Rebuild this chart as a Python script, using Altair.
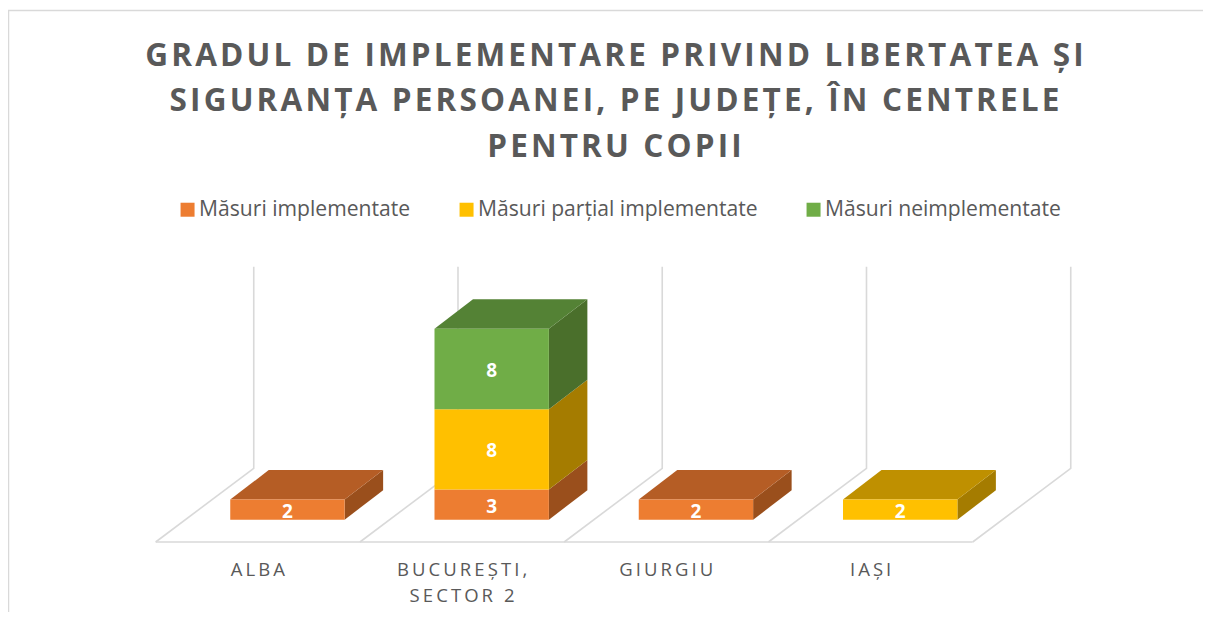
import altair as alt
import pandas as pd

categories = ["ALBA", "BUCUREȘTI,\nSECTOR 2", "GIURGIU", "IAȘI"]
series = ["Măsuri implementate", "Măsuri parțial implementate", "Măsuri neimplementate"]
implemented = [2, 3, 2, 0]
partial = [0, 8, 0, 2]
not_implemented = [0, 8, 0, 0]
colors = ["#ED7D31", "#FFC000", "#70AD47"]
top_colors = ["#B55D25", "#BF9000", "#548235"]
side_colors = ["#9A4F1C", "#A57C00", "#4A6F2B"]
title_lines = [
    "GRADUL DE IMPLEMENTARE PRIVIND LIBERTATEA ȘI",
    "SIGURANȚA PERSOANEI, PE JUDEȚE, ÎN CENTRELE",
    "PENTRU COPII",
]

W, H = 1195, 604
FONT = "Open Sans"
BAR_L, BAR_W = 0.365, 0.56
DX, DY = 0.1885, 2.935
FLOOR_FRONT, FLOOR_BACK, WALL_TOP, FLOOR_DX = -2.219, 5.114, 25.17, 0.48
x_scale = alt.Scale(domain=[-0.7231, 5.1275], range=[0, W], nice=False, zero=False)
y_scale = alt.Scale(domain=[-9.184, 50.915], range=[H, 0], nice=False, zero=False)


def spaced(text, sep="\u200a"):
    return sep.join(text)


fronts, sides, tops, labels = [], [], [], []
for i, cat in enumerate(categories):
    base = 0
    vals = [implemented[i], partial[i], not_implemented[i]]
    last = max(j for j, v in enumerate(vals) if v)
    for j, v in enumerate(vals):
        if not v:
            continue
        l, r = i + BAR_L, i + BAR_L + BAR_W
        t = base + v
        key = f"{i}-{j}"
        fronts.append(dict(series=series[j], x=l, x2=r, y=base, y2=t))
        labels.append(dict(x=(l + r) / 2, y=(base + t) / 2, text=str(v)))
        sides += [
            dict(key=key, fill=side_colors[j], x=r, y=base, y2=t),
            dict(key=key, fill=side_colors[j], x=r + DX, y=base + DY, y2=t + DY),
        ]
        if j == last:
            tops += [
                dict(key=key, fill=top_colors[j], x=l, y=t, y2=t),
                dict(key=key, fill=top_colors[j], x=l + DX, y=t, y2=t + DY),
                dict(key=key, fill=top_colors[j], x=r, y=t, y2=t + DY),
                dict(key=key, fill=top_colors[j], x=r + DX, y=t + DY, y2=t + DY),
            ]
        base = t

grid = [dict(g="front", x=0, y=FLOOR_FRONT), dict(g="front", x=len(categories), y=FLOOR_FRONT)]
for i in range(len(categories) + 1):
    grid += [
        dict(g=f"w{i}", x=i, y=FLOOR_FRONT),
        dict(g=f"w{i}", x=i + FLOOR_DX, y=FLOOR_BACK),
        dict(g=f"w{i}", x=i + FLOOR_DX, y=WALL_TOP),
    ]
cat_df = pd.DataFrame(dict(x=[i + 0.5 for i in range(len(categories))],
                           y=[-4.15] * len(categories),
                           text=["\n".join(spaced(p, "\u2009") for p in c.split("\n")) for c in categories]))

X = alt.X("x:Q", scale=x_scale, axis=None)
Y = alt.Y("y:Q", scale=y_scale, axis=None, stack=None)

frame_left = alt.Chart(pd.DataFrame({"a": [0]})).mark_rule(color="#d9d9d9", strokeWidth=1.5).encode(
    x=alt.value(0.5), y=alt.value(2.5), y2=alt.value(H))
frame_top = alt.Chart(pd.DataFrame({"a": [0]})).mark_rule(color="#d9d9d9", strokeWidth=1.5).encode(
    x=alt.value(0), x2=alt.value(W), y=alt.value(2.5))
grid_layer = alt.Chart(pd.DataFrame(grid)).mark_line(color="#d9d9d9", strokeWidth=1.6).encode(
    x=X, y=Y, detail="g:N", order=alt.Order("y:Q"))
side_layer = alt.Chart(pd.DataFrame(sides)).mark_area(interpolate="linear").encode(
    x=X, y=Y, y2="y2:Q", detail="key:N", fill=alt.Fill("fill:N", scale=None))
top_layer = alt.Chart(pd.DataFrame(tops)).mark_area(interpolate="linear").encode(
    x=X, y=Y, y2="y2:Q", detail="key:N", fill=alt.Fill("fill:N", scale=None))
front_layer = alt.Chart(pd.DataFrame(fronts)).mark_rect().encode(
    x=X, x2="x2:Q", y=alt.Y("y:Q", scale=y_scale, axis=None), y2="y2:Q",
    color=alt.Color("series:N", scale=alt.Scale(domain=series, range=colors),
                    legend=alt.Legend(title=None, orient="none", legendX=169, legendY=191,
                                      direction="horizontal", columns=3, symbolType="square",
                                      symbolSize=196, symbolStrokeWidth=0, labelFont=FONT,
                                      labelFontSize=21.1, labelColor="#595959", labelOffset=1,
                                      columnPadding=45, labelLimit=400)))
label_layer = alt.Chart(pd.DataFrame(labels)).mark_text(
    font=FONT, fontSize=19, fontWeight="bold", color="white", dy=2).encode(x=X, y=Y, text="text:N")
cat_layer = alt.Chart(cat_df).mark_text(
    font=FONT, fontSize=18.5, color="#595959", lineBreak="\n", lineHeight=26, baseline="top").encode(
    x=X, y=Y, text="text:N")

chart = alt.layer(frame_left, frame_top, grid_layer, side_layer, top_layer, front_layer,
                  label_layer, cat_layer).properties(
    width=W, height=H, padding=0, autosize=alt.AutoSizeParams(type="none"),
    title=alt.TitleParams(text=[spaced(t) for t in title_lines], font=FONT, fontSize=31.5, fontWeight="bold",
                          color="#595959", anchor="middle", frame="group", baseline="top",
                          lineHeight=45.5, offset=-155, dx=9),
).configure_view(stroke=None)

chart.save("out.html", embed_options={"renderer": "svg", "actions": False})
